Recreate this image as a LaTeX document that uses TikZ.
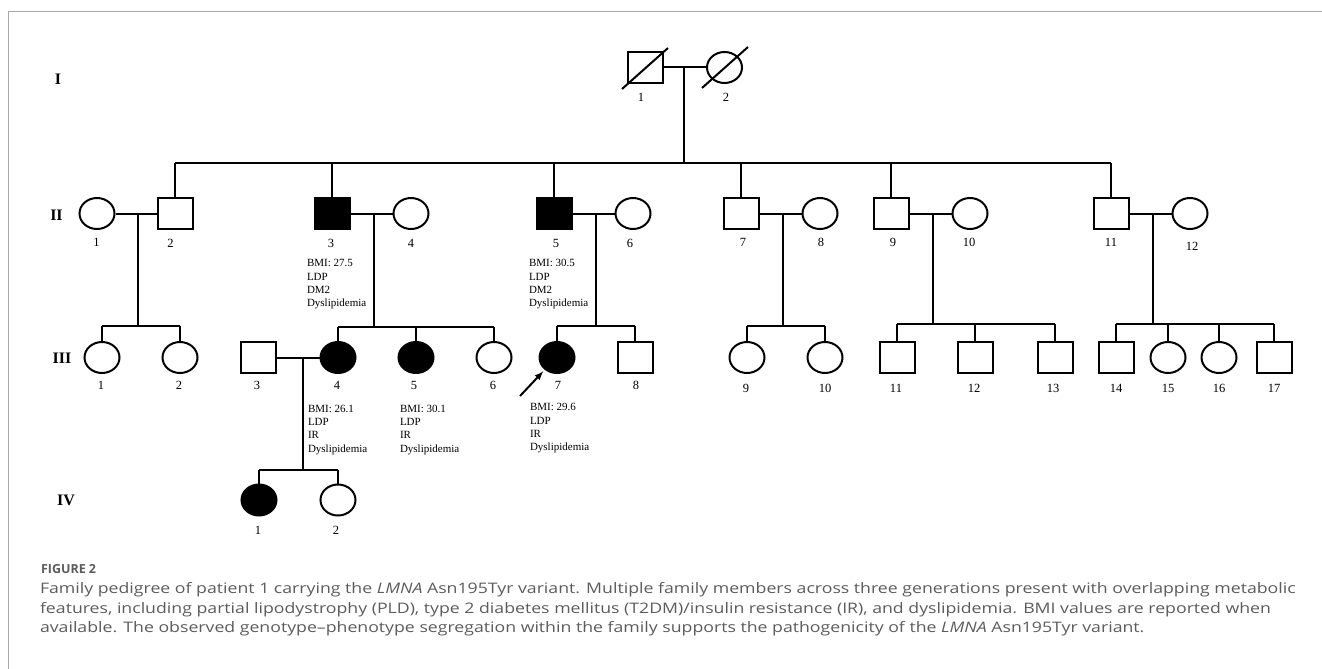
\documentclass[tikz,border=0pt]{standalone}
\usepackage{fontspec}
\usetikzlibrary{shapes.geometric}
\newfontfamily\pedfont{Liberation Serif}
\newfontfamily\capfont[FakeStretch=1.22]{Open Sans}
\newfontfamily\figfont{Open Sans}
\definecolor{capgray}{HTML}{5C5C5C}
\definecolor{framegray}{HTML}{A8A8A8}

\tikzstyle{male} = [rectangle, draw, minimum width=35, minimum height=31, inner sep=0mm]
\tikzstyle{female} = [ellipse, draw, minimum width=35, minimum height=31, inner sep=0mm]
\tikzstyle{maleA} = [male, fill=black]
\tikzstyle{femaleA} = [female, fill=black]
\tikzstyle{idno} = [inner sep=0mm, font=\pedfont\fontsize{12.5}{13}\selectfont]
\tikzstyle{gen} = [inner sep=0mm, font=\pedfont\bfseries\fontsize{16}{17}\selectfont]
\tikzstyle{note} = [anchor=north west, align=left, inner sep=0mm, font=\pedfont\fontsize{11}{13.3}\selectfont]
\tikzstyle{captext} = [anchor=base west, inner sep=0mm, text=capgray, font=\capfont\fontsize{14.5}{19}\selectfont]

\begin{document}
\begin{tikzpicture}[x=1pt, y=-1pt, line width=2, >=latex]
		\useasboundingbox (0,0) rectangle (1322,669);
		%\draw[help lines] (0,0) grid[step=50] (1322,669);
		\draw[framegray, line width=1] (1322,12) -- (8.5,12) -- (8.5,669);
		
		% generation labels
		\foreach \g\y\gx in {I/79/58, II/215/56.5, III/358/62, IV/500/66}
		\node[gen] (gen\g) at (\gx, \y) {\g};
		
		% generation I
		\foreach \n/\x/\s/\lx in {1/645/male/641, 2/724.5/female/726} {
			\node[\s] (I_\n) at (\x, 67.5) {};
			\node[idno] (nI_\n) at (\lx, 97) {\n};
		}
		\draw ([shift={(-23,21.5)}]I_1.center) -- ([shift={(23,-19.5)}]I_1.center);
		\draw ([shift={(-22.5,20.5)}]I_2.center) -- ([shift={(23.5,-20.5)}]I_2.center);
		
		% generation II
		\foreach \n/\x/\s/\lx/\ly in {1/97/female/96.5/242, 2/175/male/170.5/243,
			3/332/maleA/331/243, 4/411/female/411/243, 5/554/maleA/556/243,
			6/633/female/630/243, 7/741/male/743/242, 8/820/female/821/242,
			9/891/male/893/242, 10/970/female/969/242, 11/1111/male/1111/242,
			12/1190/female/1192/246} {
			\node[\s] (II_\n) at (\x, 213.5) {};
			\node[idno] (nII_\n) at (\lx, \ly) {\n};
		}
		
		% generation III
		\foreach \n/\x/\s/\lx/\ly in {1/102/female/101/385, 2/180/female/179/385,
			3/258.5/male/257/385, 4/338/femaleA/337/385, 5/416/femaleA/414/385,
			6/494/female/493/385, 7/557/femaleA/558/385, 8/635/male/636/385,
			9/747/female/746/388, 10/825/female/825/388, 11/897/male/896/388,
			12/975/male/974/388, 13/1055/male/1053/388, 14/1116/male/1116/388,
			15/1168/female/1168/388, 16/1219/female/1219/388, 17/1274/male/1274/388} {
			\node[\s] (III_\n) at (\x, 357.5) {};
			\node[idno] (nIII_\n) at (\lx, \ly) {\n};
		}
		
		% generation IV
		\foreach \n/\x/\s/\lx in {1/259/femaleA/258, 2/338/female/336} {
			\node[\s] (IV_\n) at (\x, 500) {};
			\node[idno] (nIV_\n) at (\lx, 530) {\n};
		}
		
		% I -> II
		\draw (I_1) -- (I_2);
		\coordinate (mI) at (684, 67.5);
		\coordinate (sI) at (684, 163);
		\draw (mI) -- (sI);
		\draw (II_2 |- sI) -- (II_11 |- sI);
		\foreach \c in {2,3,5,7,9,11}
		\draw (II_\c) -- (II_\c |- sI);
		
		% II -> III
		\foreach \a/\b/\x/\y/\f/\l in {1/2/138/326/1/2, 3/4/374/327/4/6,
			5/6/596/326/7/8, 7/8/783/326/9/10, 9/10/933/324/11/13,
			11/12/1153/324/14/17} {
			\draw (II_\a) -- (II_\b);
			\coordinate (mII_\a) at (\x, 213.5);
			\coordinate (sII_\a) at (\x, \y);
			\draw (mII_\a) -- (sII_\a);
			\draw (III_\f |- sII_\a) -- (III_\l |- sII_\a);
		}
		\foreach \c/\a in {1/1, 2/1, 4/3, 5/3, 6/3, 7/5, 8/5, 9/7, 10/7,
			11/9, 12/9, 13/9, 14/11, 15/11, 16/11, 17/11}
		\draw (III_\c) -- (III_\c |- sII_\a);
		
		% III -> IV
		\draw (III_3) -- (III_4);
		\coordinate (mIII) at (303, 357.5);
		\coordinate (sIII) at (303, 470);
		\draw (mIII) -- (sIII);
		\draw (IV_1 |- sIII) -- (IV_2 |- sIII);
		\foreach \c in {1,2}
		\draw (IV_\c) -- (IV_\c |- sIII);
		
		% proband
		\coordinate (pb) at (520, 396);
		\draw[->, shorten >=2] (pb) -- (III_7.-135);
		
		% clinical notes
		\node[note] (tII_3) at (306, 258.5) {BMI: 27.5\\LDP\\DM2\\Dyslipidemia};
		\node[note] (tII_5) at (528, 258.5) {BMI: 30.5\\LDP\\DM2\\Dyslipidemia};
		\node[note] (tIII_4) at (307, 404) {BMI: 26.1\\LDP\\IR\\Dyslipidemia};
		\node[note] (tIII_5) at (399, 404) {BMI: 30.1\\LDP\\IR\\Dyslipidemia};
		\node[note] (tIII_7) at (529, 402.5) {BMI: 29.6\\LDP\\IR\\Dyslipidemia};
		
		% caption
		\node[anchor=base west, inner sep=0mm, text=capgray, font=\figfont\bfseries\fontsize{12.5}{14}\selectfont] (fig) at (40, 573) {FIGURE 2};
		\node[captext] (cap1) at (39, 593.5) {Family pedigree of patient 1 carrying the \textit{LMNA} Asn195Tyr variant. Multiple family members across three generations present with overlapping metabolic};
		\node[captext] (cap2) at (39, 613) {features, including partial lipodystrophy (PLD), type 2 diabetes mellitus (T2DM)/insulin resistance (IR), and dyslipidemia. BMI values are reported when};
		\node[captext] (cap3) at (39, 632.5) {available. The observed genotype–phenotype segregation within the family supports the pathogenicity of the \textit{LMNA} Asn195Tyr variant.};
	\end{tikzpicture}
\end{document}
